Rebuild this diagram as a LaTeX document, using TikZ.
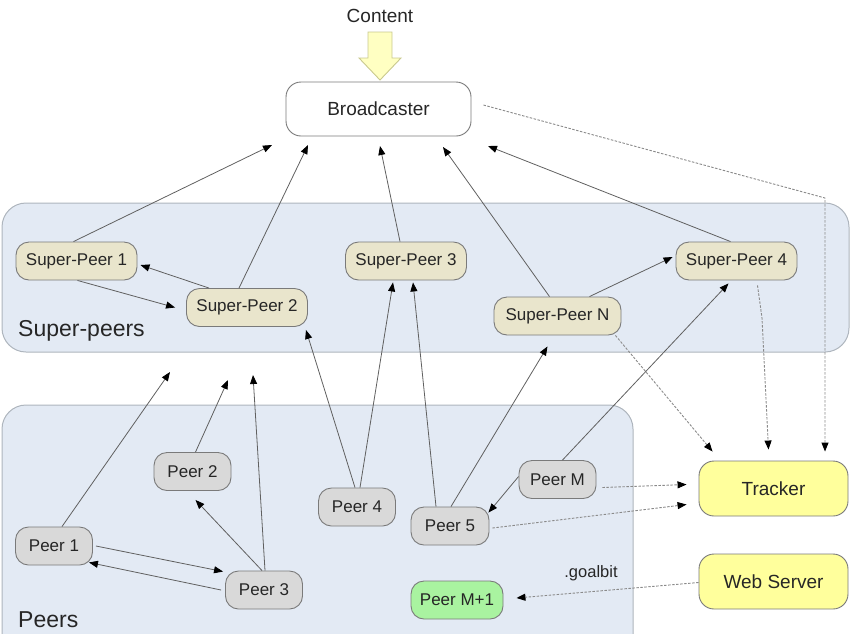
\documentclass[tikz,border=0pt]{standalone}
\usepackage{fontspec}
\setmainfont{Liberation Sans}
\usetikzlibrary{arrows.meta}
\definecolor{grpfill}{HTML}{E3EAF4}
\definecolor{grpline}{HTML}{AEB5BD}
\definecolor{spfill}{HTML}{E9E5CC}
\definecolor{peerfill}{HTML}{D9D9D9}
\definecolor{nodeline}{HTML}{7A7A7A}
\definecolor{srvfill}{HTML}{FFFF9C}
\definecolor{greenfill}{HTML}{A9F3A0}
\definecolor{contfill}{HTML}{FFFFC2}
\definecolor{contline}{HTML}{C9C98E}
\definecolor{linegray}{HTML}{606060}
\definecolor{dotgray}{HTML}{8A8A8A}
\definecolor{txt}{HTML}{262626}
\tikzset{
  box/.style={draw=nodeline, line width=0.9pt, rounded corners=13pt, inner sep=0pt, text=txt},
  sp/.style={box, fill=spfill, minimum width=121pt, minimum height=38pt, font=\fontsize{17}{19}\selectfont},
  peer/.style={box, fill=peerfill, minimum width=77pt, minimum height=38pt, font=\fontsize{17}{19}\selectfont},
  srv/.style={box, fill=srvfill, rounded corners=15pt, minimum width=149pt, minimum height=55pt, font=\fontsize{19}{21}\selectfont},
  bcast/.style={box, fill=white, rounded corners=15pt, minimum width=185pt, minimum height=54pt, font=\fontsize{19}{21}\selectfont},
  grp/.style={draw=grpline, fill=grpfill, line width=1pt, rounded corners=24pt},
  grplabel/.style={anchor=west, inner sep=0pt, text=txt, font=\fontsize{23}{26}\selectfont},
  conn/.style={draw=linegray, line width=0.8pt, -{Triangle[length=9pt,width=7pt,black]}},
  dotconn/.style={draw=dotgray, line width=0.9pt, dash pattern=on 2.5pt off 1.5pt, -{Triangle[length=9pt,width=7pt,black]}},
  plain/.style={inner sep=0pt, text=txt}
}
\begin{document}
\begin{tikzpicture}[x=1pt,y=-1pt]
\useasboundingbox (0,0) rectangle (850,633);
\begin{scope}
\clip (0,0) rectangle (850,633);
\draw[grp] (2,203) rectangle (849,352);
\draw[grp] (2,405) rectangle (633,660);
\end{scope}
\node[grplabel] (lsp) at (18,331) {Super-peers};
\node[grplabel] (lp) at (18,620) {Peers};

% content arrow
\node[plain, font=\fontsize{19}{21}\selectfont] (content) at (380,16) {Content};
\filldraw[fill=contfill, draw=contline, line width=0.9pt]
  (368,32) -- (392,32) -- (392,58) -- (401,58) -- (380,80) -- (359,58) -- (368,58) -- cycle;

\node[bcast] (bc) at (378.5,109) {Broadcaster};

\node[sp] (sp1) at (76.5,261) {Super-Peer 1};
\node[sp] (sp2) at (247,307.5) {Super-Peer 2};
\node[sp] (sp3) at (406,261) {Super-Peer 3};
\node[sp, minimum width=127pt] (spn) at (557.5,316) {Super-Peer N};
\node[sp] (sp4) at (736.5,261) {Super-Peer 4};

\node[peer] (p2) at (192.5,471.5) {Peer 2};
\node[peer] (p1) at (54,546) {Peer 1};
\node[peer] (p3) at (264,590) {Peer 3};
\node[peer] (p4) at (357,507) {Peer 4};
\node[peer, minimum width=78pt] (p5) at (450,526) {Peer 5};
\node[peer] (pm) at (557.5,479.5) {Peer M};
\node[peer, fill=greenfill, minimum width=92pt] (pm1) at (457,600) {Peer M+1};

\node[srv] (tr) at (773.5,488.5) {Tracker};
\node[srv] (ws) at (773.5,581.5) {Web Server};

\node[plain, font=\fontsize{16.5}{19}\selectfont] (gb) at (591,573) {.goalbit};

% free arrow ends
\coordinate (t1) at (272,145);
\coordinate (t2) at (308,145);
\coordinate (t3) at (380,146);
\coordinate (t4) at (443,147);
\coordinate (t5) at (488,146);
\coordinate (t6) at (170,372);
\coordinate (t7) at (228,380);
\coordinate (t8) at (253,375);
\coordinate (c1) at (825,198);
\coordinate (c2) at (762,318);

% to broadcaster
\draw[conn] ([xshift=-3]sp1.north) -- (t1);
\draw[conn] ([xshift=-8]sp2.north) -- (t2);
\draw[conn] ([xshift=-6]sp3.north) -- (t3);
\draw[conn] ([xshift=-8]spn.north) -- (t4);
\draw[conn] ([xshift=-6]sp4.north) -- (t5);

% super-peer mesh
\draw[conn] ([xshift=-38]sp2.north) -- ([xshift=3,yshift=-4]sp1.east);
\draw[conn] ([xshift=1]sp1.south) -- ([xshift=-11]sp2.west);
\draw[conn] ([xshift=32]spn.north) -- ([xshift=-3,yshift=4]sp4.west);

% peers to super-peer layer
\draw[conn] ([xshift=8]p1.north) -- (t6);
\draw[conn] ([xshift=3]p2.north) -- (t7);
\draw[conn] ([xshift=1]p3.north) -- (t8);
\draw[conn] ([xshift=-2]p4.north) -- ([xshift=-2,yshift=-3]sp2.south east);
\draw[conn] ([xshift=3]p4.north) -- ([xshift=-13,yshift=-2]sp3.south);
\draw[conn] ([xshift=-14]p5.north) -- ([xshift=7,yshift=-2]sp3.south);
\draw[conn] ([xshift=1]p5.north) -- ([xshift=-10,yshift=-11]spn.south);
\draw[conn] ([xshift=5]pm.north) -- ([xshift=-8,yshift=-3]sp4.south);

% peer mesh
\draw[conn] ([xshift=-2]p3.north) -- ([xshift=3,yshift=-9]p2.south);
\draw[conn] ([xshift=3]p1.east) -- ([xshift=-2,yshift=-1]p3.north west);
\draw[conn] ([xshift=-4]p3.west) -- ([xshift=-4,yshift=3]p1.south east);
\draw[conn] ([yshift=3]pm.west) -- ([xshift=-1,yshift=-6]p5.north east);

% dotted (tracker / web server)
\draw[dotconn] ([xshift=12,yshift=4]bc.east) -- (c1) -- ([yshift=9]c1 |- tr.north);
\draw[dotconn] ([xshift=21,yshift=-5]sp4.south) -- (c2) -- ([xshift=-5,yshift=11]tr.north);
\draw[dotconn] ([xshift=-6]spn.south east) -- ([xshift=14,yshift=9]tr.north west);
\draw[dotconn] ([xshift=6,yshift=-8]pm.east) -- ([xshift=-12,yshift=4]tr.west);
\draw[dotconn] ([xshift=3,yshift=-2]p5.east) -- ([xshift=-12,yshift=-16]tr.west);
\draw[dotconn] ([yshift=-1]ws.west) -- ([xshift=13,yshift=2]pm1.east);
\end{tikzpicture}
\end{document}
